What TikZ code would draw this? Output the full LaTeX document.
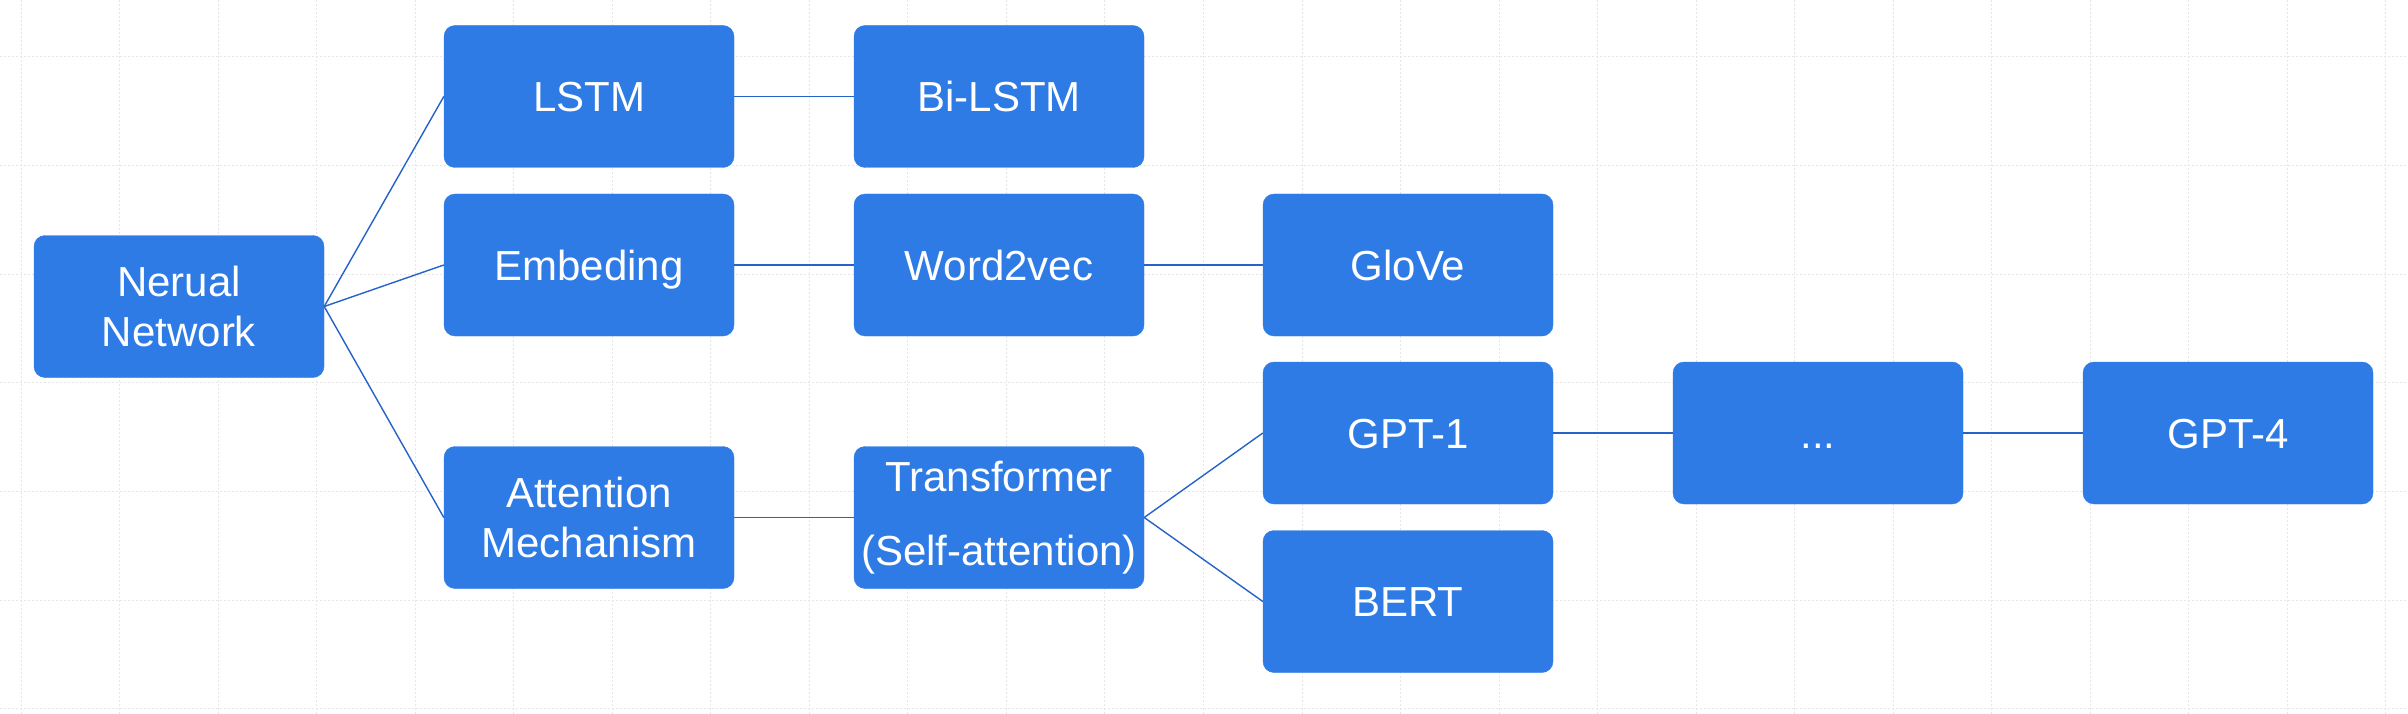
\documentclass[tikz,border=0pt]{standalone}
\usepackage{fontspec}
\setmainfont{Liberation Sans}
\definecolor{boxblue}{HTML}{2E7BE5}
\definecolor{lineblue}{HTML}{2562CA}
\definecolor{gridgray}{HTML}{E6E6E6}
\begin{document}
\begin{tikzpicture}[x=1pt,y=-1pt,
  model/.style={draw=boxblue,fill=boxblue,rounded corners=11pt,minimum width=290pt,
    minimum height=142pt,inner sep=0pt,text=white,align=center,
    font=\fontsize{42}{50}\selectfont},
  oneline/.style={model,text height=30pt,text depth=0pt},
  link/.style={draw=lineblue,line width=1.4pt},
  gridline/.style={draw=gridgray,line width=1pt,dash pattern=on 2pt off 2pt}]
\useasboundingbox[fill=white] (0,0) rectangle (2408,714);
% canvas grid
\foreach \i in {0,...,24} \draw[gridline] ({21+98.54*\i},0) -- ({21+98.54*\i},714);
\foreach \j in {0,...,6} \draw[gridline] (0,{57+108.65*\j}) -- (2408,{57+108.65*\j});
% models
\node[model] (nn) at (179,306.5) {Nerual\\Network};
\node[oneline] (lstm) at (589,96.5) {LSTM};
\node[oneline] (bilstm) at (999,96.5) {Bi-LSTM};
\node[oneline] (embed) at (589,265) {Embeding};
\node[oneline] (w2v) at (999,265) {Word2vec};
\node[oneline] (glove) at (1408,265) {GloVe};
\node[model] (attn) at (589,517.5) {Attention\\Mechanism};
\node[model] (trans) at (999,517.5) {Transformer\\[24pt](Self-attention)};
\node[oneline] (gpt1) at (1408,433) {GPT-1};
\node[oneline] (dots) at (1818,433) {...};
\node[oneline] (gpt4) at (2228,433) {GPT-4};
\node[oneline] (bert) at (1408,601.5) {BERT};
% links
\draw[link] (nn.east) -- (lstm.west);
\draw[link] (nn.east) -- (embed.west);
\draw[link] (nn.east) -- (attn.west);
\draw[link] (lstm) -- (bilstm);
\draw[link] (embed) -- (w2v);
\draw[link] (w2v) -- (glove);
\draw[link] (attn) -- (trans);
\draw[link] (trans.east) -- (gpt1.west);
\draw[link] (trans.east) -- (bert.west);
\draw[link] (gpt1) -- (dots);
\draw[link] (dots) -- (gpt4);
\end{tikzpicture}
\end{document}
